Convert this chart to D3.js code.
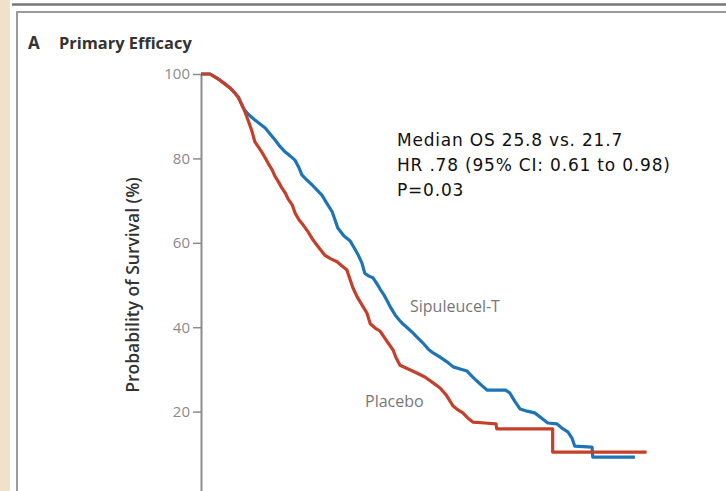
<!DOCTYPE html>
<html>
<head>
<meta charset="utf-8">
<script src="https://cdn.jsdelivr.net/npm/d3@7"></script>
<style>
  html, body { margin: 0; padding: 0; background: #fff; overflow: hidden; }
  svg { display: block; }
</style>
</head>
<body>
<div id="chart"></div>
<script>
// Kaplan-Meier curves: [months, survival %]
const placebo = [
  [0, 100], [1.3, 100], [2.0, 99.3], [2.7, 98.6], [3.5, 97.6], [4.2, 96.7], [4.9, 95.5],
  [5.4, 94.5], [5.8, 93.1], [6.2, 91.7], [6.8, 89.1], [7.4, 86.3], [7.8, 83.9], [8.4, 82.5],
  [8.8, 81.5], [9.3, 80.1], [9.7, 78.9], [10.3, 77.3], [10.7, 75.8], [11.3, 74.2], [11.7, 73.0],
  [12.2, 71.8], [12.6, 70.4], [13.2, 69.0], [13.6, 67.1], [14.2, 65.4], [14.8, 64.2], [15.5, 62.6],
  [16.2, 60.7], [16.9, 59.2], [17.9, 57.1], [18.8, 56.2], [19.7, 55.5], [20.4, 54.5], [21.1, 53.6],
  [21.6, 51.2], [22.0, 49.3], [22.6, 47.2], [23.3, 45.3], [24.0, 43.4], [24.5, 40.8], [25.2, 39.8],
  [25.9, 39.1], [26.9, 36.7], [27.8, 34.6], [28.2, 32.9], [28.8, 31.0], [30.0, 30.1], [31.3, 29.1],
  [32.4, 28.2], [33.6, 26.8], [34.6, 25.6], [35.5, 23.9], [36.5, 21.3], [37.2, 20.4], [37.9, 19.7],
  [38.6, 18.5], [39.4, 17.5], [41.1, 17.3], [42.7, 17.1], [42.8, 15.9], [50.9, 15.9], [50.9, 10.4],
  [64.5, 10.4]
];

const sipuleucel = [
  [0, 100], [1.3, 100], [2.0, 99.3], [2.7, 98.6], [3.5, 97.6], [4.2, 96.7], [4.9, 95.5],
  [5.4, 94.5], [5.8, 93.1], [6.2, 91.7], [6.8, 90.5], [7.8, 89.1], [8.5, 88.2], [9.3, 87.2],
  [10.0, 85.8], [10.7, 84.4], [11.4, 82.9], [12.2, 81.5], [12.9, 80.6], [13.6, 79.6], [14.2, 77.7],
  [14.6, 76.1], [15.3, 74.9], [16.1, 73.7], [16.8, 72.5], [17.5, 71.3], [18.2, 69.4], [19.0, 67.3],
  [19.4, 65.4], [19.8, 63.5], [20.7, 61.6], [21.6, 60.4], [22.1, 59.0], [22.7, 57.3], [23.3, 55.2],
  [23.7, 52.8], [24.3, 52.1], [24.9, 51.7], [25.5, 50.2], [25.9, 49.1], [26.5, 47.6], [26.9, 46.4],
  [27.5, 44.5], [28.1, 42.9], [28.7, 41.7], [29.2, 40.8], [29.9, 39.8], [30.7, 38.6], [31.4, 37.4],
  [32.1, 36.3], [32.9, 34.8], [33.6, 33.9], [34.6, 32.9], [35.6, 31.8], [36.5, 30.6], [37.5, 30.1],
  [38.5, 29.6], [39.2, 28.4], [39.9, 27.3], [40.7, 26.1], [41.4, 25.1], [44.1, 25.1], [44.7, 24.4],
  [45.4, 22.5], [46.2, 20.6], [47.2, 20.1], [48.3, 19.7], [49.5, 18.2], [50.2, 17.3], [51.5, 17.1],
  [52.4, 15.9], [53.1, 15.2], [53.7, 13.7], [54.1, 11.8], [56.6, 11.6], [56.7, 9.2], [62.8, 9.2]
];

const yTicks = [0, 20, 40, 60, 80, 100];
const statsLines = ['Median OS 25.8 vs. 21.7', 'HR .78 (95% CI: 0.61 to 0.98)', 'P=0.03'];

const width = 726;
const height = 491;

const svg = d3.select('#chart')
  .append('svg')
  .attr('width', width)
  .attr('height', height);

// page decoration: tan margin and grey frame lines
svg.append('rect').attr('x', 0).attr('y', 0).attr('width', 10).attr('height', height).attr('fill', '#f1e1c9');
svg.append('line').attr('x1', 12).attr('x2', width).attr('y1', 4.5).attr('y2', 4.5)
  .attr('stroke', '#777').attr('stroke-width', 2.5);
svg.append('line').attr('x1', 16).attr('x2', width).attr('y1', 12).attr('y2', 12)
  .attr('stroke', '#9a9a9a').attr('stroke-width', 2);
svg.append('line').attr('x1', 17).attr('x2', 17).attr('y1', 11).attr('y2', height)
  .attr('stroke', '#9a9a9a').attr('stroke-width', 2);

// scales
const x = d3.scaleLinear().domain([0, 66]).range([201, 657]);
const y = d3.scaleLinear().domain([0, 100]).range([496, 74]);

// y axis
const yAxis = svg.append('g')
  .attr('transform', 'translate(201,0)')
  .call(d3.axisLeft(y).tickValues(yTicks).tickSize(8).tickSizeOuter(0).tickPadding(3));
yAxis.select('.domain').attr('stroke', '#8c8c8c').attr('stroke-width', 2);
yAxis.selectAll('.tick line').attr('stroke', '#8c8c8c').attr('stroke-width', 1.5);
yAxis.selectAll('.tick text')
  .attr('fill', '#8a8a8a')
  .style('font-family', 'Open Sans, sans-serif')
  .style('font-size', '15px');

svg.append('text')
  .attr('transform', 'translate(139,285) rotate(-90)')
  .attr('text-anchor', 'middle')
  .attr('fill', '#333')
  .style('font-family', 'Open Sans, sans-serif')
  .style('font-size', '17.5px')
  .style('font-weight', 600)
  .text('Probability of Survival (%)');

// title
svg.append('text')
  .attr('x', 28).attr('y', 49)
  .attr('fill', '#333')
  .style('font-family', 'Open Sans, sans-serif')
  .style('font-size', '17px')
  .style('font-weight', 700)
  .text('A');
svg.append('text')
  .attr('x', 59).attr('y', 49)
  .attr('fill', '#333')
  .style('font-family', 'Open Sans, sans-serif')
  .style('font-size', '16.4px')
  .style('font-weight', 700)
  .text('Primary Efficacy');

// curves
const line = d3.line()
  .x((d) => x(d[0]))
  .y((d) => y(d[1]))
  .curve(d3.curveLinear);

svg.append('path')
  .datum(sipuleucel)
  .attr('d', line)
  .attr('fill', 'none')
  .attr('stroke', '#1f74b5')
  .attr('stroke-width', 3.2)
  .attr('stroke-linejoin', 'round');

svg.append('path')
  .datum(placebo)
  .attr('d', line)
  .attr('fill', 'none')
  .attr('stroke', '#c4402b')
  .attr('stroke-width', 3.2)
  .attr('stroke-linejoin', 'round');

// curve labels
svg.append('text')
  .attr('x', 410).attr('y', 312)
  .attr('fill', '#777')
  .style('font-family', 'Open Sans, sans-serif')
  .style('font-size', '16px')
  .text('Sipuleucel-T');
svg.append('text')
  .attr('x', 365).attr('y', 407)
  .attr('fill', '#777')
  .style('font-family', 'Open Sans, sans-serif')
  .style('font-size', '16px')
  .text('Placebo');

// stats annotation
svg.append('g')
  .selectAll('text')
  .data(statsLines)
  .enter()
  .append('text')
  .attr('x', 397)
  .attr('y', (d, i) => 146 + i * 25)
  .attr('fill', '#111')
  .style('font-family', 'DejaVu Sans, sans-serif')
  .style('font-size', '17px')
  .style('letter-spacing', '0.8px')
  .text((d) => d);
</script>
</body>
</html>
